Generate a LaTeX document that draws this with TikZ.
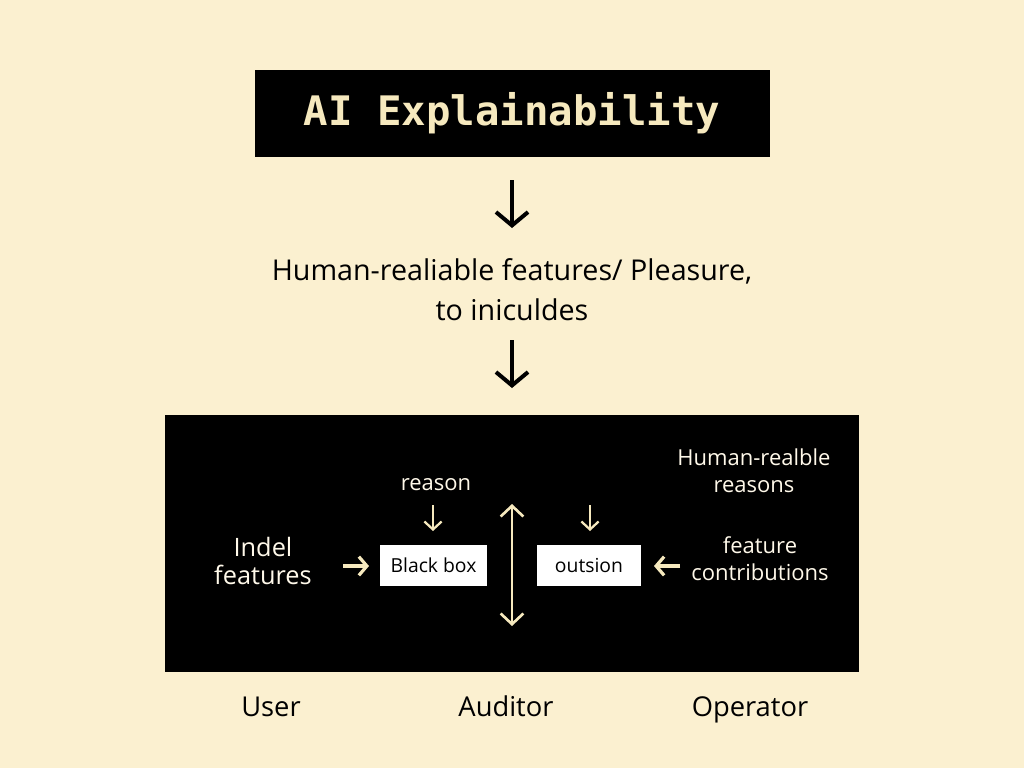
\documentclass[tikz,border=0pt]{standalone}
\usepackage{fontspec}
\setmainfont{Open Sans}
\newfontfamily\titlefont{DejaVu Sans Mono}
\usetikzlibrary{arrows.meta}
\definecolor{bg}{HTML}{FBF0D0}
\definecolor{cream}{HTML}{F6E9BE}
\definecolor{lite}{HTML}{FFF9EA}
\tikzset{
  bigarrow/.style={line width=3pt, -{Straight Barb[length=10pt,width=24pt,line width=3pt]}},
  smallarrow/.style={draw=cream, line width=1.7pt, -{Straight Barb[length=6pt,width=13pt,line width=1.7pt]}},
  sidearrow/.style={draw=cream, line width=2.4pt, -{Straight Barb[length=6pt,width=14pt,line width=2.4pt]}},
  dblarrow/.style={draw=cream, line width=2pt, {Straight Barb[length=8pt,width=17pt,line width=2pt]}-{Straight Barb[length=8pt,width=17pt,line width=2pt]}},
  intext/.style={text=lite, font=\fontsize{16.5}{20}\selectfont, align=center},
  whitebox/.style={fill=white, draw=none, minimum width=80pt, minimum height=31pt, font=\fontsize{14.5}{16}\selectfont},
  role/.style={font=\fontsize{20.5}{24}\selectfont, text=black, anchor=base}
}
\begin{document}
\begin{tikzpicture}[x=0.75pt,y=-0.75pt]
\fill[bg] (0,0) rectangle (1024,768);
\useasboundingbox (0,0) rectangle (1024,768);
% title
\node[fill=black, minimum width=386.25pt, minimum height=65.25pt, inner sep=0pt,
      text=cream, font=\titlefont\bfseries\fontsize{30.5}{34}\selectfont] (title) at (512,113.5) {AI Explainability};
% middle text
\node[font=\fontsize{21.5}{30}\selectfont, align=center, text=black] (mid) at (512,290) {Human-realiable features/ Pleasure,\\to iniculdes};
\coordinate (a1s) at (512,180);
\coordinate (a1e) at (512,228);
\draw[bigarrow] (a1s) -- (a1e);
\coordinate (a2s) at (512,340);
\coordinate (a2e) at (512,388);
\draw[bigarrow] (a2s) -- (a2e);
% main black panel
\node[fill=black, minimum width=520.5pt, minimum height=192.75pt, inner sep=0pt] (panel) at (512,543.5) {};
% inner boxes
\node[whitebox] (bb) at (433.5,565.5) {Black box};
\node[whitebox, minimum width=78pt] (out) at (589,565.5) {outsion};
% texts
\node[intext] (hr) at (754,471) {Human-realble\\reasons};
\node[intext] (reason) at (436,485) {reason};
\node[intext, font=\fontsize{19}{21.5}\selectfont] (indel) at (263,561) {Indel\\features};
\node[intext] (fc) at (760,558.5) {feature\\contributions};
% arrows
\coordinate (r1s) at (433,505);
\coordinate (r1e) at (433,531);
\draw[smallarrow] (r1s) -- (r1e);
\coordinate (r2s) at (590,505);
\coordinate (r2e) at (590,531);
\draw[smallarrow] (r2s) -- (r2e);
\coordinate (d1) at (512,504);
\coordinate (d2) at (512,626);
\draw[dblarrow] (d1) -- (d2);
\coordinate (l1s) at (343,566);
\coordinate (l1e) at (369,566);
\draw[sidearrow] (l1s) -- (l1e);
\coordinate (rr1s) at (680,566);
\coordinate (rr1e) at (654,566);
\draw[sidearrow] (rr1s) -- (rr1e);
% roles
\node[role] (user) at (271,716) {User};
\node[role] (aud) at (506,716) {Auditor};
\node[role] (op) at (750,716) {Operator};
\end{tikzpicture}
\end{document}
